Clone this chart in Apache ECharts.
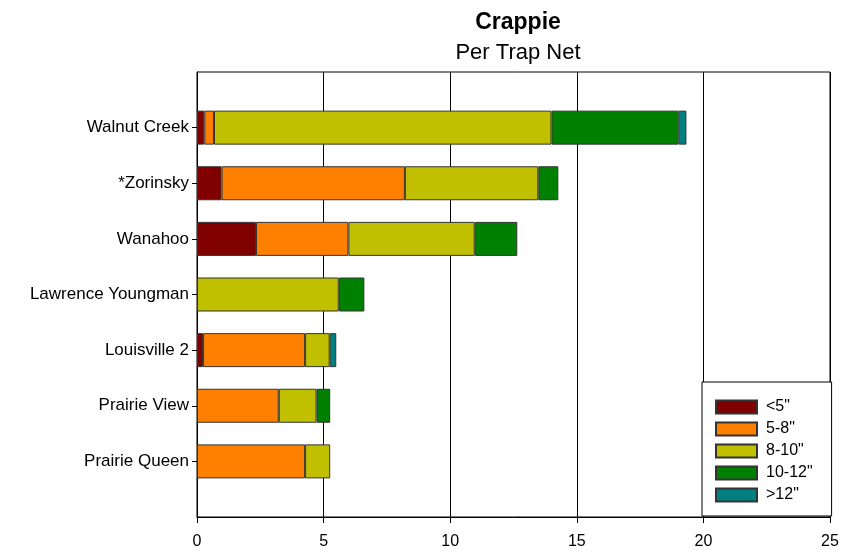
<!DOCTYPE html>
<html>
<head>
<meta charset="utf-8">
<script src="https://cdn.jsdelivr.net/npm/echarts@6/dist/echarts.min.js"></script>
<style>
  html, body { margin: 0; padding: 0; background: #fff; }
  #main { width: 853px; height: 552px; }
</style>
</head>
<body>
<div id="main"></div>
<script>
// lakes, top to bottom
var lakes = ['Walnut Creek', '*Zorinsky', 'Wanahoo', 'Lawrence Youngman', 'Louisville 2', 'Prairie View', 'Prairie Queen'];
var sizeNames = ['<5"', '5-8"', '8-10"', '10-12"', '>12"'];
var under5  = [0.29, 0.97, 2.33, 0,    0.24, 0,    0];
var from5   = [0.38, 7.24, 3.65, 0,    4.03, 3.23, 4.27];
var from8   = [13.33, 5.27, 4.99, 5.60, 0.97, 1.49, 0.99];
var from10  = [5.01, 0.79, 1.68, 1.01, 0,    0.54, 0];
var over12  = [0.32, 0,    0,    0,    0.26, 0,    0];
var xTicks = [0, 5, 10, 15, 20, 25];

var colors = ['#800000', '#FF8000', '#C0C000', '#008000', '#008080'];
var allData = [under5, from5, from8, from10, over12];

// blank slot at top and bottom so the bars sit at 1..7 of a 0..8 range
var cats = [''].concat(lakes).concat(['']);
function pad(arr){
    return ['-'].concat(arr.map(function(v){ return v === 0 ? '-' : v; })).concat(['-']);
}

var myChart = echarts.init(document.getElementById('main'));
var series = [];
for (var i = 0; i < sizeNames.length; i++) {
    series.push({
        name: sizeNames[i],
        type: 'bar',
        stack: 'total',
        barWidth: 34,
        itemStyle: {
            color: colors[i],
            borderColor: '#333',
            borderWidth: 1
        },
        data: pad(allData[i])
    });
}

var option = {
    animation: false,
    textStyle: { fontFamily: 'Liberation Sans, Arial, sans-serif' },
    title: [
        {
            text: 'Crappie',
            left: 513, top: 6,
            textAlign: 'center',
            textStyle: { fontSize: 23, fontWeight: 'bold', color: '#000', fontFamily: 'Liberation Sans' }
        },
        {
            text: 'Per Trap Net',
            left: 513, top: 37,
            textAlign: 'center',
            textStyle: { fontSize: 22, fontWeight: 'normal', color: '#000', fontFamily: 'Liberation Sans' }
        }
    ],
    grid: {
        left: 197, right: 23, top: 72, bottom: 35,
        show: true,
        borderColor: '#000',
        borderWidth: 1,
        backgroundColor: '#fff'
    },
    legend: {
        data: sizeNames,
        orient: 'vertical',
        left: 702, top: 382,
        backgroundColor: '#fff',
        borderColor: '#000',
        borderWidth: 1,
        borderRadius: 0,
        padding: [17, 19, 13, 13],
        icon: 'rect',
        itemWidth: 41,
        itemHeight: 13,
        itemGap: 6,
        textStyle: { fontSize: 16, lineHeight: 16, color: '#000', fontFamily: 'Liberation Sans', padding: [0, 0, 0, 4] }
    },
    xAxis: {
        type: 'value',
        min: 0, max: 25, interval: 5,
        axisLine: { show: true, lineStyle: { color: '#000', width: 1 } },
        axisTick: { show: true, length: 6, lineStyle: { color: '#000' } },
        axisLabel: {
            fontSize: 16, color: '#000', margin: 17,
            formatter: function(v){ return xTicks.indexOf(v) >= 0 ? String(v) : ''; }
        },
        splitLine: { show: true, lineStyle: { color: '#000', width: 1 } }
    },
    yAxis: {
        type: 'category',
        inverse: true,
        boundaryGap: false,
        data: cats,
        axisLine: { show: true, lineStyle: { color: '#000', width: 1 } },
        axisTick: {
            show: true, length: 5, lineStyle: { color: '#000' },
            interval: function(idx){ return idx > 0 && idx < cats.length - 1; }
        },
        axisLabel: { fontSize: 17, color: '#000', margin: 8 },
        splitLine: { show: false }
    },
    series: series
};
myChart.setOption(option);
</script>
</body>
</html>
